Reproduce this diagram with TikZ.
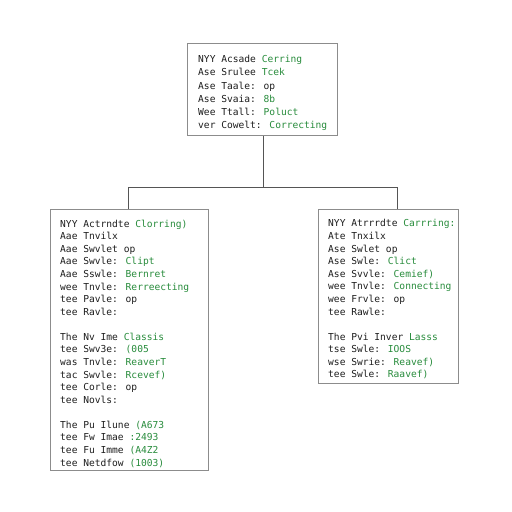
\documentclass[tikz,border=0pt]{standalone}
\usepackage{fontspec}
\newfontfamily\monofont{DejaVu Sans Mono}
\definecolor{tgreen}{RGB}{40,140,60}
\definecolor{tdark}{RGB}{30,30,30}
\definecolor{boxgray}{RGB}{140,140,140}
\definecolor{linegray}{RGB}{85,85,85}
\newcommand{\gr}[1]{\textcolor{tgreen}{#1}}
\tikzset{
  panel/.style={draw=boxgray, line width=0.9pt, fill=white, inner sep=0pt, anchor=north west},
  txt/.style={anchor=north west, inner sep=0pt, align=left, text=tdark,
    font=\monofont\fontsize{9.6}{12.6}\selectfont},
  txttop/.style={txt, font=\monofont\fontsize{9.6}{13.3}\selectfont},
  conn/.style={draw=linegray, line width=0.9pt}
}
\begin{document}
\begin{tikzpicture}[x=1pt,y=-1pt]
\path[use as bounding box, fill=white] (0,0) rectangle (512,512);
\node[panel, minimum width=150pt, minimum height=92pt] (top) at (187,43) {};
\node[panel, minimum width=158pt, minimum height=261pt] (L) at (50,209) {};
\node[panel, minimum width=140pt, minimum height=174pt] (R) at (318,209) {};
\node[txttop] (toptext) at (198,55) {NYY Acsade \gr{Cerring}\\
Ase Srulee \gr{Tcek}\\
Ase Taale: op\\
Ase Svaia: \gr{8b}\\
Wee Ttall: \gr{Poluct}\\
ver Cowelt: \gr{Correcting}};
\node[txt] (Ltext) at (60,219.5) {NYY Actrndte \gr{Clorring)}\\
Aae Tnvilx\\
Aae Swvlet op\\
Aae Swvle: \gr{Clipt}\\
Aae Sswle: \gr{Bernret}\\
wee Tnvle: \gr{Rerreecting}\\
tee Pavle: op\\
tee Ravle:\\[12.4pt]
The Nv Ime \gr{Classis}\\
tee Swv3e: \gr{(005}\\
was Tnvle: \gr{ReaverT}\\
tac Swvle: \gr{Rcevef)}\\
tee Corle: op\\
tee Novls:\\[12.4pt]
The Pu Ilune \gr{(A673}\\
tee Fw Imae \gr{:2493}\\
tee Fu Imme \gr{(A4Z2}\\
tee Netdfow \gr{(1003)}};
\node[txt] (Rtext) at (328,219.5) {NYY Atrrrdte \gr{Carrring:}\\
Ate Tnxilx\\
Ase Swlet op\\
Ase Swle: \gr{Clict}\\
Ase Svvle: \gr{Cemief)}\\
wee Tnvle: \gr{Connecting}\\
wee Frvle: op\\
tee Rawle:\\[12.4pt]
The Pvi Inver \gr{Lasss}\\
tse Swle: \gr{IOOS}\\
wse Swrie: \gr{Reavef)}\\
tee Swle: \gr{Raavef)}};
\coordinate (j) at (263,187);
\coordinate (lt) at (128,209);
\coordinate (rt) at (397,209);
\draw[conn] (top.south -| j) -- (j);
\draw[conn] (j) -| (lt);
\draw[conn] (j) -| (rt);
\end{tikzpicture}
\end{document}
